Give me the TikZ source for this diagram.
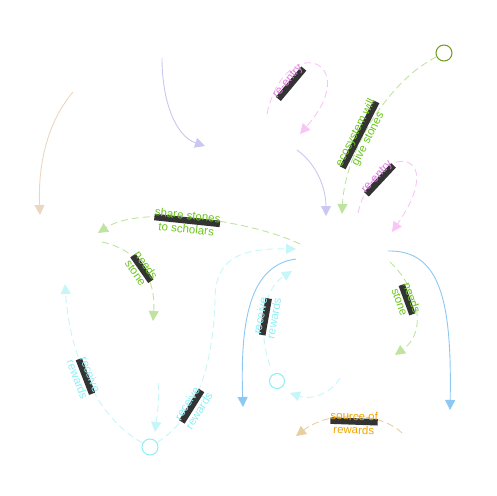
\documentclass[tikz,border=0pt]{standalone}
\usepackage{fontspec}
\setmainfont{Liberation Sans}
\usetikzlibrary{arrows.meta}
\definecolor{peachc}{HTML}{EBD6C0}
\definecolor{lavc}{HTML}{C8C8F0}
\definecolor{pinkc}{HTML}{F7C6F7}
\definecolor{pinkt}{HTML}{DD7ADD}
\definecolor{greenc}{HTML}{BFE4A0}
\definecolor{greent}{HTML}{6CC51C}
\definecolor{greeno}{HTML}{6A9A1E}
\definecolor{cyanc}{HTML}{C6F6F8}
\definecolor{cyant}{HTML}{8EEEF4}
\definecolor{bluec}{HTML}{8CC8F2}
\definecolor{tanc}{HTML}{E8CFA0}
\definecolor{tant}{HTML}{F2A500}
\definecolor{barc}{HTML}{333333}
% dark bar behind the first line of a label
\newcommand{\barred}[1]{\setbox0\hbox{#1}\rlap{\color{barc}\rule[-4.5pt]{\wd0}{6.5pt}}#1}

\begin{document}
\begin{tikzpicture}[x=1pt,y=-1pt,line width=0.9pt,
    >={Triangle[length=10pt,width=10pt]},
    link/.style={dash pattern=on 7pt off 4pt},
    lbl/.style={font=\fontsize{11.5}{11}\selectfont,align=center,inner sep=0pt},
    stock/.style={circle,draw,line width=1pt,minimum size=16pt,inner sep=0pt}]
    \useasboundingbox (0,0) rectangle (496,496);

    % the three circles
    \node[stock,draw=greeno] (eco) at (444,53) {};
    \node[stock,draw=cyant] (pool) at (150,447) {};
    \node[stock,draw=cyant,minimum size=15pt] (hub) at (277,381) {};

    % peach flow
    \coordinate (pe1) at (73,92);
    \coordinate (pe2) at (40,215);
    \draw[peachc,->] (pe1) .. controls (45,125) and (38,170) .. (pe2);

    % lavender flows
    \coordinate (la1) at (162,58);
    \coordinate (la2) at (205,146);
    \draw[lavc,->] (la1) .. controls (162,100) and (175,136) .. (la2);
    \coordinate (la3) at (297,150);
    \coordinate (la4) at (326,216);
    \draw[lavc,->] (la3) .. controls (318,165) and (326,190) .. (la4);

    % re-entry loops
    \coordinate (re1) at (267,114);
    \coordinate (re2) at (300,134);
    \draw[pinkc,link,->] (re1) .. controls (285,30) and (365,60) .. (re2);
    \node[lbl,text=pinkt,rotate=50] (reA) at (289,82) {\barred{re-entry}};
    \coordinate (re3) at (358,213);
    \coordinate (re4) at (392,232);
    \draw[pinkc,link,->] (re3) .. controls (375,140) and (452,145) .. (re4);
    \node[lbl,text=pinkt,rotate=47] (reB) at (378,178) {\barred{re-entry}};

    % ecosystem gives stones
    \coordinate (ec1) at (342,214);
    \draw[greenc,link,->] (eco) .. controls (390,80) and (345,150) .. (ec1);
    \node[lbl,text=greent,rotate=63] (ecoL) at (362,136) {\barred{ecosystem will}\\give stones};

    % share stones
    \coordinate (sh1) at (300,244);
    \coordinate (sh2) at (98,233);
    \draw[greenc,link,->] (sh1) .. controls (250,220) and (140,205) .. (sh2);
    \node[lbl,text=greent,rotate=-6] (shL) at (187,222) {\barred{share stones}\\to scholars};

    % needs stone, left and right
    \coordinate (ns1) at (102,242);
    \coordinate (ns2) at (153,321);
    \draw[greenc,link,->] (ns1) .. controls (140,250) and (156,280) .. (ns2);
    \node[lbl,text=greent,rotate=-55] (nsA) at (141,269) {\barred{needs}\\stone};
    \coordinate (ns3) at (390,262);
    \coordinate (ns4) at (395,355);
    \draw[greenc,link,->] (ns3) .. controls (415,285) and (430,330) .. (ns4);
    \node[lbl,text=greent,rotate=-70] (nsB) at (406,300) {\barred{needs}\\stone};

    % rewards received
    \coordinate (rw1) at (65,284);
    \draw[cyanc,link,->] (pool) .. controls (100,420) and (70,360) .. (rw1);
    \node[lbl,text=cyant,rotate=-69] (rwA) at (84,377) {\barred{receive}\\rewards};
    \coordinate (rw2) at (215,300);
    \coordinate (rw3) at (296,249);
    \draw[cyanc,link,->] (pool) .. controls (200,415) and (213,360) .. (rw2)
        .. controls (215,262) and (235,248) .. (rw3);
    \node[lbl,text=cyant,rotate=58] (rwB) at (193,407) {\barred{receive}\\rewards};
    \coordinate (rw4) at (158,383);
    \coordinate (rw5) at (155,432);
    \draw[cyanc,link,->] (rw4) .. controls (160,400) and (157,415) .. (rw5);
    \coordinate (rw6) at (270,366);
    \coordinate (rw7) at (292,271);
    \draw[cyanc,link,->] (rw6) .. controls (258,330) and (262,290) .. (rw7);
    \node[lbl,text=cyant,rotate=80] (rwC) at (267,317) {\barred{receive}\\rewards};
    \coordinate (rw8) at (340,378);
    \coordinate (rw9) at (290,393);
    \draw[cyanc,link,->] (rw8) .. controls (330,395) and (310,400) .. (rw9);

    % blue outflows
    \coordinate (bl1) at (296,259);
    \coordinate (bl2) at (243,407);
    \draw[bluec,->] (bl1) .. controls (250,265) and (240,320) .. (bl2);
    \coordinate (bl3) at (388,251);
    \coordinate (bl4) at (450,410);
    \draw[bluec,->] (bl3) .. controls (440,250) and (452,300) .. (bl4);

    % source of rewards
    \coordinate (so1) at (402,433);
    \coordinate (so2) at (296,436);
    \draw[tanc,link,->] (so1) .. controls (380,412) and (330,410) .. (so2);
    \node[lbl,text=tant,rotate=-2] (soL) at (354,423) {\barred{source of}\\rewards};
\end{tikzpicture}
\end{document}
